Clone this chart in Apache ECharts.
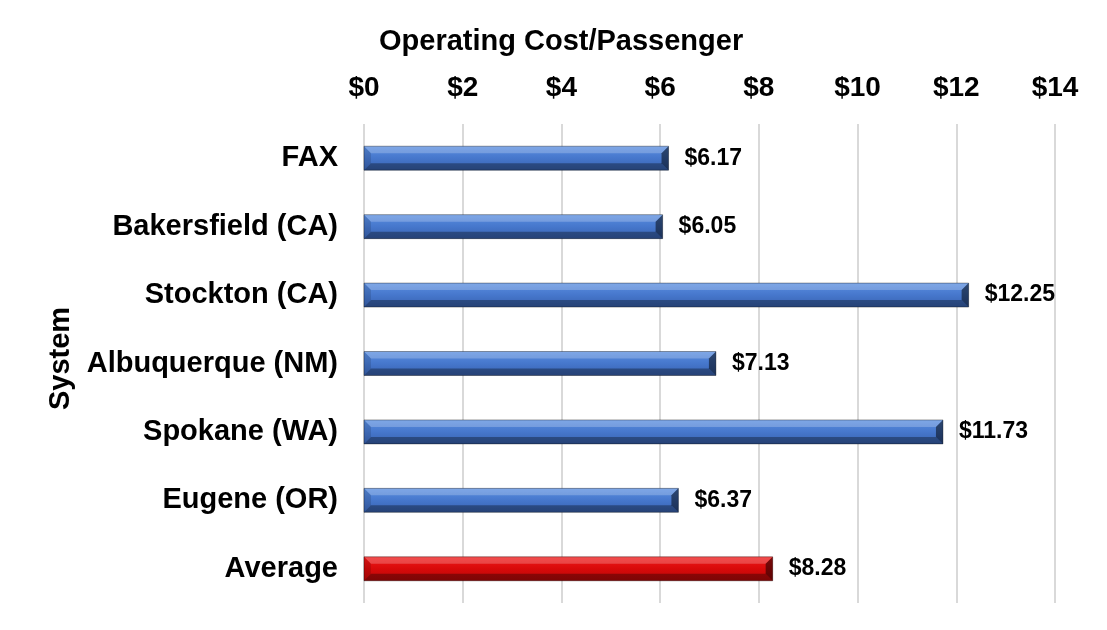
<!DOCTYPE html>
<html>
<head>
<meta charset="utf-8">
<script src="https://cdn.jsdelivr.net/npm/echarts@6/dist/echarts.min.js"></script>
<style>
  html, body { margin: 0; padding: 0; background: #fff; }
  #chart { width: 1107px; height: 630px; }
</style>
</head>
<body>
<div id="chart"></div>
<script>
// data
const systems = ["FAX", "Bakersfield (CA)", "Stockton (CA)", "Albuquerque (NM)", "Spokane (WA)", "Eugene (OR)", "Average"];
const costPerPassenger = [6.17, 6.05, 12.25, 7.13, 11.73, 6.37, 8.28];
const highlight = "Average";

const font = "Arial, 'Liberation Sans', sans-serif";
const BAR_H = 24;
const BEVEL = 7;

const blueFill = new echarts.graphic.LinearGradient(0, 0, 0, 1, [
  { offset: 0, color: "#5a8ee0" },
  { offset: 0.5, color: "#4677cc" },
  { offset: 1, color: "#3862b0" }
]);
const redFill = new echarts.graphic.LinearGradient(0, 0, 0, 1, [
  { offset: 0, color: "#f01a1a" },
  { offset: 0.5, color: "#d80a0a" },
  { offset: 1, color: "#b80808" }
]);

// bevel overlay drawn on top of each bar, positioned from the axis scales
function renderBevel(params, api) {
  const idx = api.value(1);
  const start = api.coord([0, idx]);
  const end = api.coord([api.value(0), idx]);
  const x0 = start[0], x1 = end[0];
  const y0 = start[1] - BAR_H / 2, y1 = start[1] + BAR_H / 2;
  const b = BEVEL;
  const poly = (pts, fill) => ({ type: "polygon", shape: { points: pts }, style: { fill: fill }, silent: true });
  return {
    type: "group",
    children: [
      poly([[x0, y0], [x1, y0], [x1 - b, y0 + b], [x0 + b, y0 + b]], "rgba(255,255,255,0.22)"),
      poly([[x0, y1], [x1, y1], [x1 - b, y1 - b], [x0 + b, y1 - b]], "rgba(0,0,0,0.32)"),
      poly([[x0, y0], [x0 + b, y0 + b], [x0 + b, y1 - b], [x0, y1]], "rgba(0,0,0,0.12)"),
      poly([[x1, y0], [x1 - b, y0 + b], [x1 - b, y1 - b], [x1, y1]], "rgba(0,0,0,0.5)"),
      { type: "rect", shape: { x: x0, y: y0, width: x1 - x0, height: BAR_H },
        style: { fill: "none", stroke: "rgba(0,0,0,0.35)", lineWidth: 1 }, silent: true }
    ]
  };
}

const chart = echarts.init(document.getElementById("chart"));

chart.setOption({
  animation: false,
  title: {
    text: "Operating Cost/Passenger",
    left: 374,
    top: 22,
    textStyle: { fontFamily: font, fontSize: 29, fontWeight: "bold", color: "#000" }
  },
  grid: { left: 364, right: 52, top: 124, height: 479 },
  xAxis: {
    type: "value",
    position: "top",
    min: 0,
    max: 14,
    interval: 2,
    axisLine: { show: false },
    axisTick: { show: false },
    splitLine: { lineStyle: { color: "#d9d9d9", width: 2 } },
    axisLabel: {
      formatter: v => "$" + v,
      fontFamily: font,
      fontSize: 28,
      fontWeight: "bold",
      color: "#000",
      margin: 22
    }
  },
  yAxis: {
    type: "category",
    data: systems,
    inverse: true,
    name: "System",
    nameLocation: "middle",
    nameGap: 289,
    nameRotate: 90,
    nameTextStyle: { fontFamily: font, fontSize: 29, fontWeight: "bold", color: "#000", padding: [0, 0, 0, 10] },
    axisLine: { show: false },
    axisTick: { show: false },
    axisLabel: {
      fontFamily: font,
      fontSize: 29,
      fontWeight: "bold",
      color: "#000",
      margin: 26
    }
  },
  series: [{
    type: "bar",
    barWidth: BAR_H,
    data: costPerPassenger.map((v, i) => ({
      value: v,
      itemStyle: { color: systems[i] === highlight ? redFill : blueFill }
    })),
    label: {
      show: true,
      position: "right",
      distance: 16,
      formatter: p => "$" + p.value.toFixed(2),
      fontFamily: font,
      fontSize: 23,
      fontWeight: "bold",
      color: "#000"
    }
  }, {
    type: "custom",
    renderItem: renderBevel,
    encode: { x: 0, y: 1 },
    z: 5,
    silent: true,
    data: costPerPassenger.map((v, i) => [v, i])
  }]
});
</script>
</body>
</html>
